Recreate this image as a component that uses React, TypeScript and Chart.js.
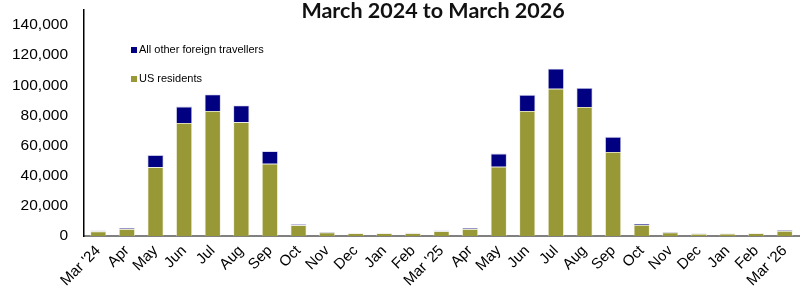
import React, { useEffect, useRef } from "react";
import { Chart, registerables } from "chart.js";

Chart.register(...registerables);

const TITLE = "March 2024 to March 2026";
const CATEGORIES = [
  "Mar '24", "Apr", "May", "Jun", "Jul", "Aug", "Sep", "Oct", "Nov", "Dec", "Jan", "Feb",
  "Mar '25", "Apr", "May", "Jun", "Jul", "Aug", "Sep", "Oct", "Nov", "Dec", "Jan", "Feb", "Mar '26",
];
const US_RESIDENTS = [
  3100, 4600, 45600, 75000, 83000, 75500, 48000, 7100, 2300, 1800, 1800, 1900,
  3200, 4600, 46000, 83000, 97700, 85700, 55800, 7300, 2400, 1400, 1600, 1800, 3300,
];
const OTHER_FOREIGN = [
  500, 600, 8100, 10900, 10900, 11100, 8300, 700, 300, 200, 200, 200,
  400, 600, 8700, 10700, 13300, 12600, 10000, 700, 300, 100, 200, 200, 500,
];
const Y_TICKS = [0, 20000, 40000, 60000, 80000, 100000, 120000, 140000];
const Y_AXIS_MAX = 150000;

const OLIVE = "#989836";
const NAVY = "#000080";

const overlayPlugin = {
  id: "overlay",
  afterDraw(chart: any) {
    const ctx = chart.ctx;
    const area = chart.chartArea;
    ctx.save();
    ctx.font = "bold 21.5px Lato, 'Open Sans', sans-serif";
    ctx.fillStyle = "#111";
    ctx.textAlign = "center";
    ctx.textBaseline = "alphabetic";
    ctx.fillText(TITLE, 433, 18);
    const ds = chart.data.datasets;
    const order = [1, 0];
    ctx.font = "11px 'Liberation Sans', Arial, sans-serif";
    ctx.textAlign = "left";
    ctx.textBaseline = "middle";
    order.forEach((idx, i) => {
      const y = area.top + 40 + i * 29;
      const x = area.left + 47;
      ctx.fillStyle = ds[idx].backgroundColor;
      ctx.fillRect(x, y - 3, 6, 6);
      ctx.fillStyle = "#000";
      ctx.fillText(ds[idx].label, x + 8, y);
    });
    ctx.restore();
  },
};

export default function App() {
  const ref = useRef<HTMLCanvasElement>(null);
  useEffect(() => {
    document.body.style.margin = "0";
    const chart = new Chart(ref.current!, {
      type: "bar",
      data: {
        labels: CATEGORIES,
        datasets: [
          {
            label: "US residents",
            data: US_RESIDENTS,
            backgroundColor: OLIVE,
            borderColor: "rgba(230,230,190,0.7)",
            borderWidth: 0.8,
            barPercentage: 0.56,
            categoryPercentage: 1,
          },
          {
            label: "All other foreign travellers",
            data: OTHER_FOREIGN,
            backgroundColor: NAVY,
            borderColor: "rgba(170,170,220,0.7)",
            borderWidth: 0.8,
            barPercentage: 0.56,
            categoryPercentage: 1,
          },
        ],
      },
      options: {
        animation: false,
        responsive: false,
        maintainAspectRatio: false,
        layout: { padding: { top: 10, right: 7, left: 0, bottom: 0 } },
        plugins: {
          legend: { display: false },
          title: { display: false },
          tooltip: { enabled: false },
        },
        scales: {
          x: {
            stacked: true,
            offset: true,
            grid: { display: false, drawTicks: false },
            border: { display: true, color: "#808080", width: 2 },
            ticks: {
              maxRotation: 45,
              minRotation: 45,
              autoSkip: false,
              padding: 6,
              color: "#000",
              font: { family: "'Liberation Sans', Arial, sans-serif", size: 15 },
            },
            afterFit: (s: any) => {
              s.height = 56;
            },
          },
          y: {
            stacked: true,
            min: 0,
            max: Y_AXIS_MAX,
            grid: { display: false, drawTicks: false },
            border: { display: true, color: "#000", width: 1.5 },
            ticks: {
              padding: 16,
              color: "#000",
              font: { family: "'Liberation Sans', Arial, sans-serif", size: 15.5 },
              callback: (v: any) => Number(v).toLocaleString("en-US"),
            },
            afterBuildTicks: (axis: any) => {
              axis.ticks = Y_TICKS.map((v) => ({ value: v }));
            },
            afterFit: (s: any) => {
              s.width = 84;
              s.paddingTop = 0;
            },
          },
        },
      },
      plugins: [overlayPlugin],
    });
    return () => chart.destroy();
  }, []);
  return (
    <div style={{ width: 806, height: 292 }}>
      <canvas ref={ref} width={806} height={292} style={{ display: "block" }} />
    </div>
  );
}
